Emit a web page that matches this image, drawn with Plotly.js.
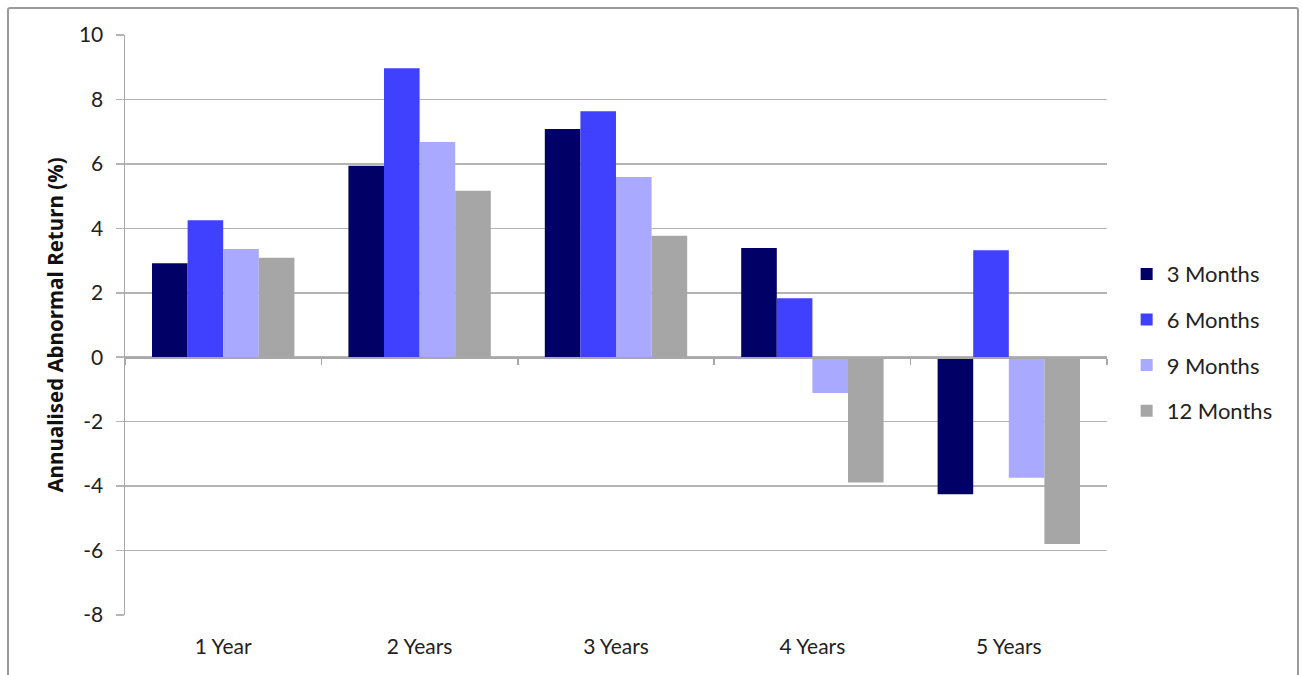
<!DOCTYPE html>
<html>
<head>
<meta charset="utf-8">
<script src="https://cdn.plot.ly/plotly-3.0.1.min.js"></script>
<style>
  html, body { margin: 0; padding: 0; background: #ffffff; }
  #frame {
    position: absolute; left: 7px; top: 7px; width: 1292px; height: 700px;
    border: 2px solid #9a9a9a; border-radius: 3px; box-sizing: border-box;
  }
  #chart { position: absolute; left: 0; top: 0; width: 1302px; height: 675px; }
</style>
</head>
<body>
<div id="frame"></div>
<div id="chart"></div>
<script>
// Holding-period categories along the x axis
const periods = ['1 Year', '2 Years', '3 Years', '4 Years', '5 Years'];

// Annualised abnormal return (%) per formation period
const months3  = [2.92, 5.94, 7.08, 3.39, -4.25];
const months6  = [4.25, 8.97, 7.63, 1.83, 3.32];
const months9  = [3.36, 6.68, 5.59, -1.11, -3.74];
const months12 = [3.09, 5.17, 3.77, -3.89, -5.80];

const seriesNames = ['3 Months', '6 Months', '9 Months', '12 Months'];
const seriesColors = ['#000066', '#4040ff', '#a9a9ff', '#a6a6a6'];

const yTicks = [10, 8, 6, 4, 2, 0, -2, -4, -6, -8];

const FONT = 'Lato, "Open Sans", sans-serif';
const TITLE_FONT = '"Open Sans", Lato, sans-serif';

const data = [months3, months6, months9, months12].map((vals, i) => ({
  type: 'bar',
  x: periods,
  y: vals,
  name: seriesNames[i],
  legendgroup: 'g' + i,
  marker: { color: seriesColors[i], line: { width: 0 } },
  hoverinfo: 'x+y+name'
}));

// invisible helper trace so the zero-level category axis (with boundary ticks) is drawn
data.push({
  type: 'scatter',
  x: periods,
  y: periods.map(() => 0),
  xaxis: 'x2',
  yaxis: 'y',
  mode: 'markers',
  marker: { opacity: 0 },
  showlegend: false,
  hoverinfo: 'skip'
});

const layout = {
  width: 1302,
  height: 675,
  paper_bgcolor: 'rgba(0,0,0,0)',
  plot_bgcolor: 'rgba(0,0,0,0)',
  margin: { l: 125, r: 195, t: 35, b: 60 },
  barmode: 'group',
  bargap: 0.275,
  bargroupgap: 0,
  font: { family: FONT, color: '#222222', size: 21 },
  xaxis: {
    type: 'category',
    categoryorder: 'array',
    categoryarray: periods,
    range: [-0.5, 4.5],
    showline: false,
    showgrid: false,
    zeroline: false,
    ticks: 'outside',
    ticklen: 13,
    tickcolor: 'rgba(0,0,0,0)',
    tickfont: { family: FONT, size: 21, color: '#222222' },
    fixedrange: true
  },
  xaxis2: {
    type: 'category',
    categoryorder: 'array',
    categoryarray: periods,
    range: [-0.5, 4.5],
    overlaying: 'x',
    anchor: 'free',
    position: 8 / 18,
    showline: true,
    linecolor: '#a8a8a8',
    linewidth: 1.5,
    showgrid: false,
    zeroline: false,
    tickson: 'boundaries',
    ticks: 'outside',
    ticklen: 6,
    tickwidth: 1.5,
    tickcolor: '#a8a8a8',
    showticklabels: false,
    fixedrange: true
  },
  yaxis: {
    range: [-8, 10],
    tickvals: yTicks,
    ticktext: yTicks.map(String),
    showline: true,
    linecolor: '#a8a8a8',
    linewidth: 1.5,
    showgrid: true,
    gridcolor: '#b4b4b4',
    gridwidth: 1.5,
    zeroline: false,
    ticks: 'outside',
    ticklen: 8,
    tickwidth: 1.5,
    tickcolor: '#b4b4b4',
    ticklabelstandoff: 8,
    tickfont: { family: FONT, size: 21, color: '#222222' },
    title: {
      text: 'Annualised Abnormal Return (%)',
      font: { family: TITLE_FONT, size: 20.5, color: '#111111', weight: 700 },
      standoff: 9
    },
    fixedrange: true
  },
  legend: {
    x: 1.02,
    xanchor: 'left',
    y: 0.624,
    yanchor: 'top',
    traceorder: 'grouped',
    tracegroupgap: 14,
    font: { family: FONT, size: 22, color: '#222222' },
    bgcolor: 'rgba(0,0,0,0)'
  },
  showlegend: true
};

Plotly.newPlot('chart', data, layout, { displayModeBar: false, staticPlot: true });
</script>
</body>
</html>
